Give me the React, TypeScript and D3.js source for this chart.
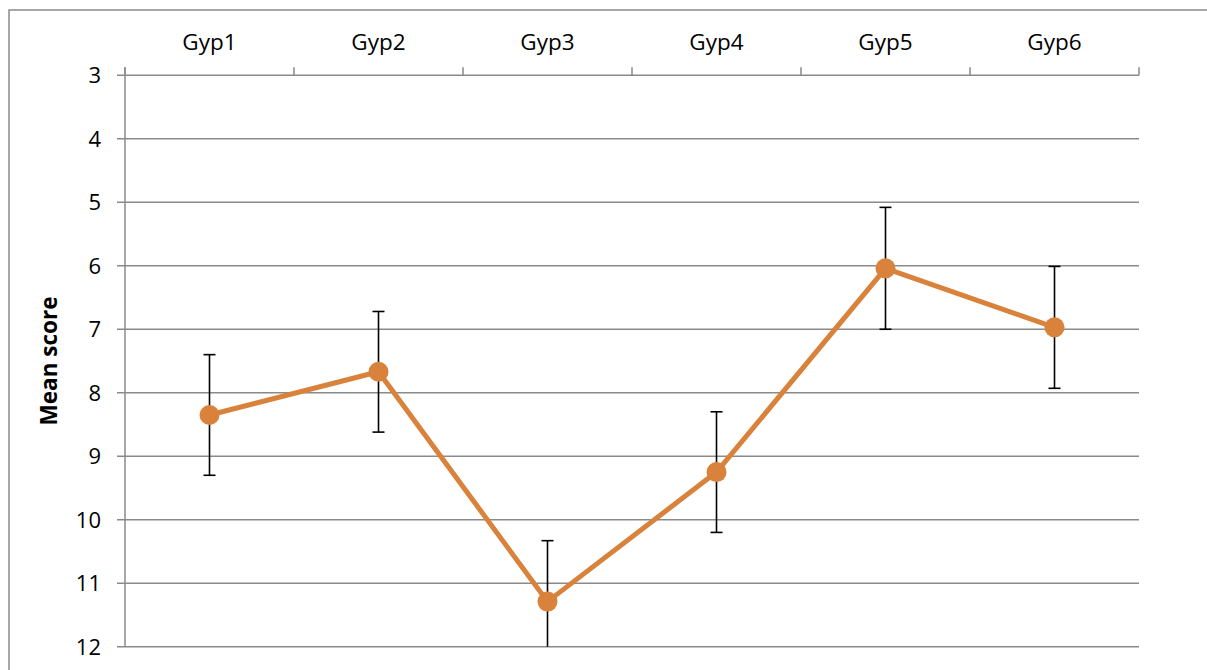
import React from "react";
import * as d3 from "d3";

const categories = ["Gyp1", "Gyp2", "Gyp3", "Gyp4", "Gyp5", "Gyp6"];
const meanScores = [8.35, 7.67, 11.29, 9.25, 6.04, 6.97];
const errorMargins = [0.95, 0.95, 0.96, 0.95, 0.96, 0.96];
const yTicks = [3, 4, 5, 6, 7, 8, 9, 10, 11, 12];
const yTitle = "Mean score";

const W = 1207;
const H = 670;
const left = 125;
const right = 1139;
const top = 75.3;
const bottom = 646.7;
const FONT = "'Open Sans', sans-serif";
const GRID = "#8a8a8a";
const ORANGE = "#D9823B";

export default function App() {
  const x = d3.scaleBand<string>().domain(categories).range([left, right]);
  const y = d3.scaleLinear().domain([3, 12]).range([top, bottom]);
  const cx = (c: string) => (x(c) as number) + x.bandwidth() / 2;
  const pts = categories.map((c, i) => ({ c, v: meanScores[i], e: errorMargins[i] }));
  const line = d3
    .line<{ c: string; v: number }>()
    .x((d) => cx(d.c))
    .y((d) => y(d.v));
  const clampV = (v: number) => Math.max(3, Math.min(12, v));
  const bounds = [...categories.map((c) => x(c) as number), right];

  return (
    <svg
      width={W}
      height={H}
      style={{ position: "absolute", left: 0, top: 0, background: "#fff" }}
    >
      <rect x={9} y={10} width={1300} height={800} fill="#fff" stroke={GRID} strokeWidth={1.5} />
      {yTicks.map((t) => (
        <g key={t}>
          <line x1={117} x2={right} y1={y(t)} y2={y(t)} stroke={GRID} strokeWidth={1.5} />
          <text
            x={101}
            y={y(t)}
            dy="0.36em"
            textAnchor="end"
            fontFamily={FONT}
            fontSize={22}
            fill="#000"
          >
            {t}
          </text>
        </g>
      ))}
      <line x1={left} x2={left} y1={top - 8} y2={bottom} stroke={GRID} strokeWidth={1.5} />
      {bounds.map((b, i) => (
        <line key={i} x1={b} x2={b} y1={top - 8} y2={top} stroke={GRID} strokeWidth={1.5} />
      ))}
      {categories.map((c) => (
        <text
          key={c}
          x={cx(c)}
          y={50}
          textAnchor="middle"
          fontFamily={FONT}
          fontSize={22.5}
          fill="#000"
        >
          {c}
        </text>
      ))}
      <text
        transform={`translate(57, ${(top + bottom) / 2}) rotate(-90)`}
        textAnchor="middle"
        fontFamily={FONT}
        fontSize={22.5}
        fontWeight="bold"
        fill="#000"
      >
        {yTitle}
      </text>
      {pts.map((p) => {
        const xc = cx(p.c);
        const hi = p.v + p.e;
        const lo = p.v - p.e;
        return (
          <g key={p.c} stroke="#000" strokeWidth={1.6}>
            <line x1={xc} x2={xc} y1={y(clampV(lo))} y2={y(clampV(hi))} />
            {lo >= 3 && <line x1={xc - 6} x2={xc + 6} y1={y(lo)} y2={y(lo)} />}
            {hi <= 12 && <line x1={xc - 6} x2={xc + 6} y1={y(hi)} y2={y(hi)} />}
          </g>
        );
      })}
      <path d={line(pts) || ""} fill="none" stroke={ORANGE} strokeWidth={5} strokeLinejoin="round" />
      {pts.map((p) => (
        <circle key={p.c} cx={cx(p.c)} cy={y(p.v)} r={10} fill={ORANGE} />
      ))}
    </svg>
  );
}
